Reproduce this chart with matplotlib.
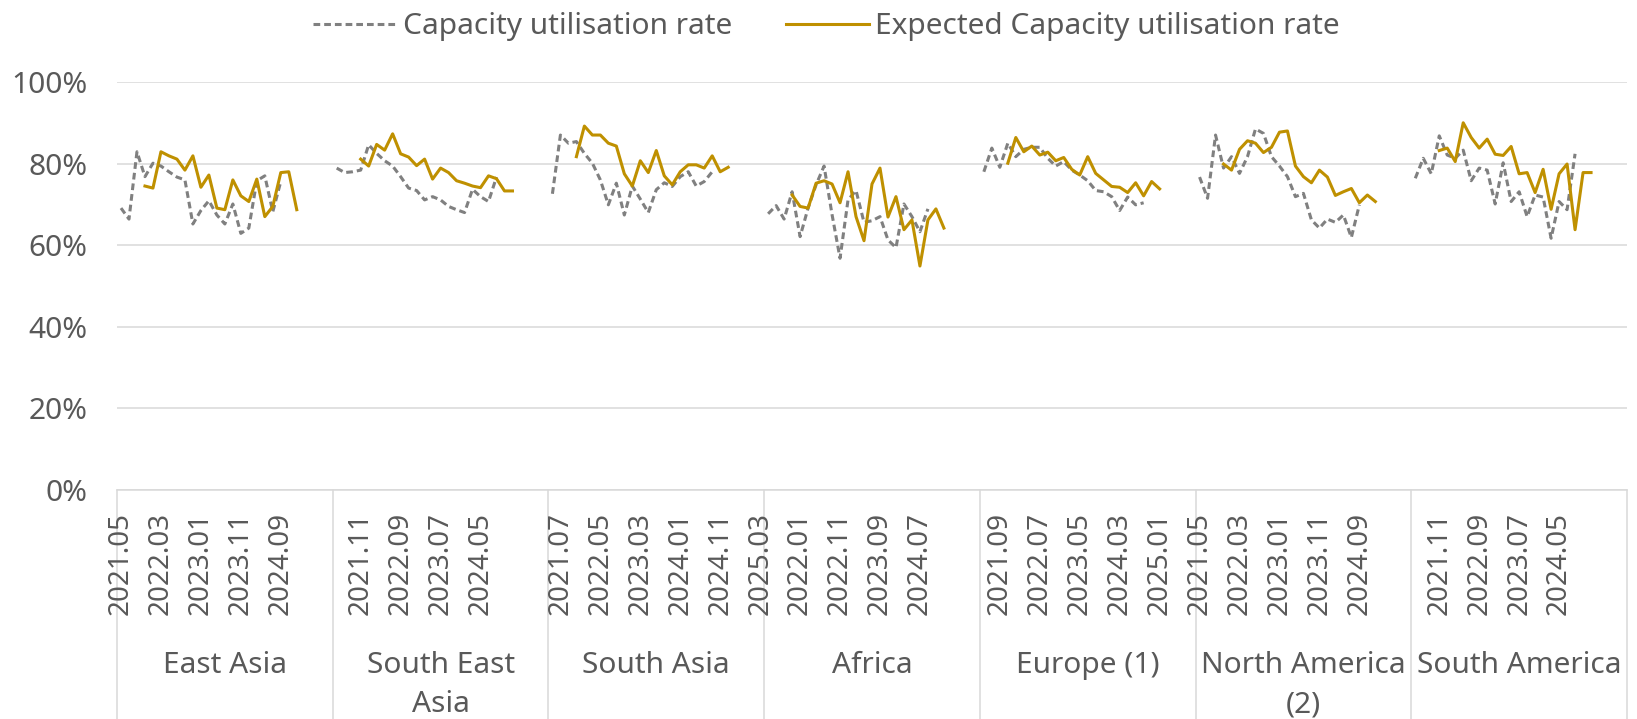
import numpy as np
import matplotlib.pyplot as plt
from matplotlib.ticker import PercentFormatter
from matplotlib.transforms import blended_transform_factory

plt.rcParams['font.family'] = ['Noto Sans', 'DejaVu Sans']

regions = ["East Asia", "South East\nAsia", "South Asia", "Africa",
           "Europe (1)", "North America\n(2)", "South America"]

# category labels: every second month from 2021.05 to 2025.01, then empty slots
dates = []
yr, mo = 2021, 5
while (yr, mo) <= (2025, 1):
    dates.append(f"{yr}.{mo:02d}")
    mo += 2
    if mo > 12:
        mo -= 12
        yr += 1
blank_tail = ["", "", "", ""]
south_asia_tail = ["", "", "", "2025.03"]

# capacity utilisation rate (%) - starts at first slot of each region
cap_east_asia = [69.1, 66.4, 82.9, 76.8, 80.1, 79.4, 78.0, 76.7, 76.0, 65.2, 68.5,
                 70.9, 67.4, 65.2, 70.1, 62.9, 64.2, 75.8, 77.0, 68.2, 75.6]
cap_se_asia = [78.9, 77.8, 78.0, 78.4, 84.6, 82.5, 80.7, 79.4, 76.8, 74.0, 73.4,
               71.1, 71.9, 71.1, 69.5, 68.7, 68.0, 73.7, 71.9, 70.7, 76.7]
cap_south_asia = [72.6, 87.0, 85.0, 85.4, 82.5, 80.1, 76.0, 69.9, 75.2, 67.4, 74.5,
                  71.3, 68.0, 73.6, 75.3, 74.4, 76.8, 78.0, 74.5, 75.6, 78.0]
cap_africa = [67.7, 69.7, 66.4, 73.1, 62.1, 69.1, 74.8, 79.4, 67.5, 56.8, 71.1,
              73.4, 65.6, 66.0, 67.0, 61.3, 59.4, 70.1, 67.0, 63.3, 68.9]
cap_europe = [78.0, 83.8, 79.1, 85.0, 81.7, 83.5, 84.0, 84.0, 81.3, 79.4, 80.5,
              78.4, 77.2, 75.8, 73.4, 73.1, 71.9, 68.5, 71.8, 69.9, 70.4]
cap_n_america = [76.7, 71.5, 87.0, 78.9, 81.7, 77.6, 81.7, 88.5, 87.4, 81.7, 79.4,
                 76.8, 71.9, 72.7, 66.2, 64.2, 66.4, 65.6, 67.4, 61.9, 69.9]
cap_s_america = [76.4, 81.3, 77.5, 86.8, 82.1, 81.3, 83.3, 75.8, 78.9, 78.4, 70.1,
                 80.2, 70.7, 73.1, 67.0, 72.3, 71.8, 61.7, 70.7, 68.7, 82.4]

# expected capacity utilisation rate (%) - starts at fourth slot of each region
exp_east_asia = [74.5, 74.0, 82.9, 81.9, 81.1, 78.4, 81.9, 74.2, 77.2, 69.1,
                 68.7, 76.0, 72.1, 70.7, 76.2, 67.0, 69.5, 77.8, 78.0, 68.7]
exp_se_asia = [81.1, 79.4, 84.7, 83.3, 87.3, 82.4, 81.6, 79.5, 81.1, 76.2,
               78.9, 77.8, 75.8, 75.2, 74.5, 74.1, 77.0, 76.3, 73.3, 73.3]
exp_south_asia = [81.7, 89.2, 87.0, 87.0, 85.0, 84.3, 77.5, 74.5, 80.7, 77.8,
                  83.2, 77.0, 74.8, 78.0, 79.7, 79.7, 78.9, 81.9, 78.0, 79.1]
exp_africa = [72.3, 69.5, 69.1, 75.2, 75.8, 75.0, 70.4, 78.0, 67.0, 61.1,
              75.0, 78.9, 66.9, 71.9, 63.8, 66.2, 54.9, 66.2, 68.9, 64.2]
exp_europe = [80.1, 86.4, 82.9, 84.3, 82.1, 82.8, 80.7, 81.5, 78.6, 77.2,
              81.7, 77.6, 76.0, 74.4, 74.2, 72.9, 75.3, 72.1, 75.6, 73.8]
exp_n_america = [79.9, 78.4, 83.5, 85.6, 85.0, 82.7, 84.0, 87.7, 88.0, 79.4,
                 76.8, 75.3, 78.4, 76.7, 72.2, 73.1, 73.9, 70.4, 72.3, 70.7]
exp_s_america = [83.2, 83.8, 80.5, 90.0, 86.4, 83.8, 86.0, 82.3, 82.0, 84.2,
                 77.5, 77.8, 72.9, 78.6, 68.8, 77.5, 79.9, 63.8, 77.8, 77.8]

capacity = [cap_east_asia, cap_se_asia, cap_south_asia, cap_africa,
            cap_europe, cap_n_america, cap_s_america]
expected = [exp_east_asia, exp_se_asia, exp_south_asia, exp_africa,
            exp_europe, exp_n_america, exp_s_america]

n_slots = len(dates) + len(blank_tail)
categories = []
for g in range(len(regions)):
    categories += dates + (south_asia_tail if g == 2 else blank_tail)

cap = np.full(len(categories), np.nan)
exp = np.full(len(categories), np.nan)
for g in range(len(regions)):
    cap[g * n_slots: g * n_slots + len(capacity[g])] = capacity[g]
    exp[g * n_slots + 3: g * n_slots + 3 + len(expected[g])] = expected[g]

txt = '#595959'
grid = '#D9D9D9'

fig = plt.figure(figsize=(16.37, 7.19), dpi=100)
ax = fig.add_axes([117 / 1637, 1 - 490 / 719, 1510 / 1637, 408 / 719])

x = np.arange(len(categories))
ax.plot(x, cap, color='#808080', lw=2.2, linestyle=(0, (2.2, 1.3)),
        label='Capacity utilisation rate')
ax.plot(x, exp, color='#BF9000', lw=2.2, label='Expected Capacity utilisation rate')

ax.set_xlim(-0.5, len(categories) - 0.5)
ax.set_ylim(0, 100)
ax.set_yticks(range(0, 101, 20))
ax.yaxis.set_major_formatter(PercentFormatter(decimals=0))
ax.grid(axis='y', color=grid, linewidth=1.1)
ax.set_axisbelow(True)
for s in ['top', 'right', 'left']:
    ax.spines[s].set_visible(False)
ax.spines['bottom'].set_color(grid)
ax.spines['bottom'].set_linewidth(1.1)

ticks = x[::5]
ax.set_xticks(ticks)
ax.set_xticklabels([categories[i] for i in ticks], rotation=90)
ax.tick_params(axis='x', length=0, pad=16, labelsize=20, labelcolor=txt)
ax.tick_params(axis='y', length=0, pad=21, labelsize=21.5, labelcolor=txt)

# group separators and region labels below the dates
trans = blended_transform_factory(ax.transData, ax.transAxes)
for g in range(len(regions) + 1):
    xb = g * n_slots - 0.5
    ax.plot([xb, xb], [0, -0.6], color=grid, lw=1.1, transform=trans,
            clip_on=False, zorder=0)
for g, name in enumerate(regions):
    xc = g * n_slots + (n_slots - 1) / 2
    ax.text(xc, -0.395, name, transform=trans, ha='center', va='top',
            fontsize=21.5, color=txt, linespacing=1.45)

fig.legend(loc='upper center', bbox_to_anchor=(0.505, 1.02), ncol=2,
           frameon=False, fontsize=21.5, labelcolor=txt, handlelength=2.8,
           columnspacing=1.8, handletextpad=0.2)

fig.savefig('out.png', dpi=100)
